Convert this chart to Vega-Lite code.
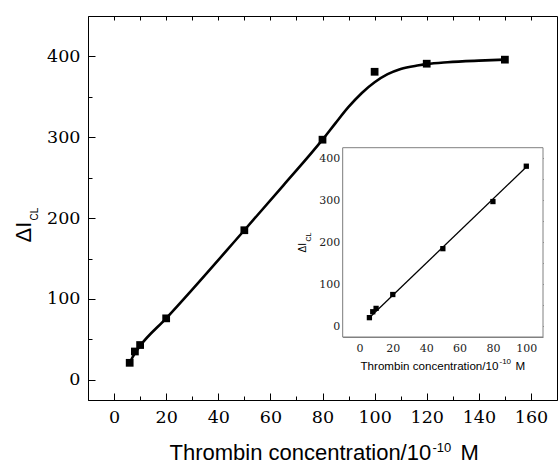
{
  "$schema": "https://vega.github.io/schema/vega-lite/v6.json",
  "width": 469,
  "height": 384,
  "autosize": "none",
  "padding": {"left": 88, "top": 16, "right": 1, "bottom": 68},
  "background": "white",
  "config": {
    "view": {"stroke": "black", "strokeWidth": 1},
    "axis": {
      "grid": false,
      "domainColor": "black",
      "tickColor": "black",
      "labelColor": "black",
      "titleColor": "black",
      "titleFont": "Liberation Sans",
      "titleFontWeight": "normal",
      "tickWidth": 1,
      "domainWidth": 1
    }
  },
  "datasets": {
    "pts": [
      {"x": 6, "y": 21}, {"x": 8, "y": 35}, {"x": 10, "y": 43}, {"x": 20, "y": 76},
      {"x": 50, "y": 185}, {"x": 80, "y": 297}, {"x": 100, "y": 381}, {"x": 120, "y": 391}, {"x": 150, "y": 396}
    ],
    "fit": [
      {"x": 6, "y": 21}, {"x": 8, "y": 33}, {"x": 10, "y": 42}, {"x": 20, "y": 76},
      {"x": 50, "y": 185}, {"x": 65, "y": 240.5}, {"x": 80, "y": 297}, {"x": 85, "y": 317.5}, {"x": 90, "y": 337.5},
      {"x": 95, "y": 354.5}, {"x": 100, "y": 368}, {"x": 105, "y": 378}, {"x": 110, "y": 384.5},
      {"x": 117, "y": 389}, {"x": 120, "y": 390.5}, {"x": 128, "y": 392.8}, {"x": 140, "y": 394.8}, {"x": 150, "y": 396}
    ],
    "inset_pts": [
      {"x": 6, "y": 21}, {"x": 8, "y": 35}, {"x": 10, "y": 43}, {"x": 20, "y": 76},
      {"x": 50, "y": 185}, {"x": 80, "y": 297}, {"x": 100, "y": 381}
    ],
    "inset_fit": [{"x": 5.5, "y": 19}, {"x": 100, "y": 379}],
    "inset_box": [{"x": -10, "x2": 110, "y": -25, "y2": 425}]
  },
  "resolve": {"scale": {"x": "independent", "y": "independent"}},
  "layer": [
    {
      "resolve": {"axis": {"x": "independent", "y": "independent"}},
      "layer": [
        {
          "data": {"name": "fit"},
          "mark": {"type": "line", "interpolate": "monotone", "color": "black", "strokeWidth": 2.6},
          "encoding": {
            "x": {"field": "x", "type": "quantitative",
              "scale": {"domain": [-10, 170], "nice": false, "zero": false},
              "axis": {"orient": "bottom", "values": [10, 30, 50, 70, 90, 110, 130, 150], "tickSize": -4,
                "labels": false, "domain": false, "title": "-10", "titleFont": "Liberation Sans", "titleFontSize": 13,
                "titleX": 344, "titleY": 51, "titleAlign": "left", "titleBaseline": "alphabetic"}},
            "y": {"field": "y", "type": "quantitative",
              "scale": {"domain": [-25, 450], "nice": false, "zero": false},
              "axis": {"orient": "left", "values": [50, 150, 250, 350], "tickSize": -4,
                "labels": false, "domain": false, "title": "CL", "titleFont": "Liberation Sans", "titleFontSize": 10, "titleAngle": 270,
                "titleX": -50.5, "titleY": 204, "titleAlign": "left", "titleBaseline": "alphabetic"}}
          }
        },
        {
          "data": {"name": "pts"},
          "mark": {"type": "square", "size": 60, "color": "black", "opacity": 1},
          "encoding": {
            "x": {"field": "x", "type": "quantitative",
              "axis": {"orient": "bottom", "values": [0, 20, 40, 60, 80, 100, 120, 140, 160], "tickSize": -7,
                "labelFont": "DejaVu Serif", "labelFontSize": 17.5, "labelPadding": 15, "labelFlush": false,
                "title": "Thrombin concentration/10", "titleFont": "Liberation Sans", "titleFontSize": 22,
                "titleX": 81, "titleY": 59, "titleAlign": "left", "titleBaseline": "alphabetic"}},
            "y": {"field": "y", "type": "quantitative",
              "axis": {"orient": "left", "values": [0, 100, 200, 300, 400], "tickSize": -7,
                "labelFont": "DejaVu Serif", "labelFontSize": 17.5, "labelPadding": 15, "labelFlush": false,
                "title": "ΔI", "titleFont": "Liberation Sans", "titleFontSize": 22, "titleAngle": 270,
                "titleX": -58, "titleY": 226, "titleAlign": "left", "titleBaseline": "alphabetic"}}
          }
        },
        {
          "data": {"name": "pts"},
          "mark": {"type": "point", "opacity": 0},
          "encoding": {
            "x": {"field": "x", "type": "quantitative",
              "axis": {"orient": "top", "values": [0, 10, 20, 30, 40, 50, 60, 70, 80, 90, 100, 110, 120, 130, 140, 150, 160],
                "tickSize": -4, "labels": false, "domain": false,
                "title": "M", "titleFont": "Liberation Sans", "titleFontSize": 22,
                "titleX": 372, "titleY": 443, "titleAlign": "left", "titleBaseline": "alphabetic"}},
            "y": {"field": "y", "type": "quantitative", "axis": null}
          }
        }
      ]
    },
    {
      "resolve": {"axis": {"x": "independent", "y": "independent"}},
      "layer": [
        {
          "data": {"name": "inset_box"},
          "mark": {"type": "rect", "fill": "white", "stroke": "#808080", "strokeWidth": 1},
          "encoding": {
            "x": {"field": "x", "type": "quantitative",
              "scale": {"domain": [-10, 110], "nice": false, "zero": false, "range": [254.7, 455]},
              "axis": {"orient": "top", "offset": -131.7, "values": [0, 10, 20, 30, 40, 50, 60, 70, 80, 90, 100],
                "tickSize": -3, "tickColor": "#333333", "labels": false, "domain": false,
                "title": "M", "titleFont": "Liberation Sans", "titleFontSize": 11.6,
                "titleX": 427, "titleY": 221.3, "titleAlign": "left", "titleBaseline": "alphabetic"}},
            "x2": {"field": "x2"},
            "y": {"field": "y", "type": "quantitative",
              "scale": {"domain": [-25, 425], "nice": false, "zero": false, "range": [321, 131.7]},
              "axis": {"orient": "right", "offset": -14, "values": [0, 50, 100, 150, 200, 250, 300, 350, 400],
                "tickSize": -3, "tickColor": "#333333", "labels": false, "domain": false, "title": null}},
            "y2": {"field": "y2"}
          }
        },
        {
          "data": {"name": "inset_fit"},
          "mark": {"type": "line", "color": "black", "strokeWidth": 1.3},
          "encoding": {
            "x": {"field": "x", "type": "quantitative",
              "axis": {"orient": "bottom", "offset": -63, "values": [10, 30, 50, 70, 90],
                "tickSize": -2.5, "tickColor": "#333333", "labels": false, "domain": false,
                "title": "-10", "titleFont": "Liberation Sans", "titleFontSize": 8,
                "titleX": 411, "titleY": 26, "titleAlign": "left", "titleBaseline": "alphabetic"}},
            "y": {"field": "y", "type": "quantitative",
              "axis": {"orient": "left", "offset": -254.7, "values": [50, 150, 250, 350],
                "tickSize": -2.5, "tickColor": "#333333", "labels": false, "domain": false,
                "title": "CL", "titleFont": "Liberation Sans", "titleFontSize": 7, "titleAngle": 270,
                "titleX": -32.7, "titleY": 225, "titleAlign": "left", "titleBaseline": "alphabetic"}}
          }
        },
        {
          "data": {"name": "inset_pts"},
          "mark": {"type": "square", "size": 28, "color": "black", "opacity": 1},
          "encoding": {
            "x": {"field": "x", "type": "quantitative",
              "axis": {"orient": "bottom", "offset": -63, "values": [0, 20, 40, 60, 80, 100],
                "tickSize": -4, "tickColor": "#333333", "domainColor": "#808080",
                "labelFont": "DejaVu Serif", "labelFontSize": 11, "labelColor": "#222222", "labelPadding": 9, "labelFlush": false,
                "title": "Thrombin concentration/10", "titleFont": "Liberation Sans", "titleFontSize": 11.6,
                "titleX": 272, "titleY": 32, "titleAlign": "left", "titleBaseline": "alphabetic"}},
            "y": {"field": "y", "type": "quantitative",
              "axis": {"orient": "left", "offset": -254.7, "values": [0, 100, 200, 300, 400],
                "tickSize": -4, "tickColor": "#333333", "domainColor": "#808080",
                "labelFont": "DejaVu Serif", "labelFontSize": 11, "labelColor": "#222222", "labelPadding": 7, "labelFlush": false,
                "title": "ΔI", "titleFont": "Liberation Sans", "titleFontSize": 10, "titleAngle": 270,
                "titleX": -37.7, "titleY": 236, "titleAlign": "left", "titleBaseline": "alphabetic"}}
          }
        }
      ]
    }
  ]
}
